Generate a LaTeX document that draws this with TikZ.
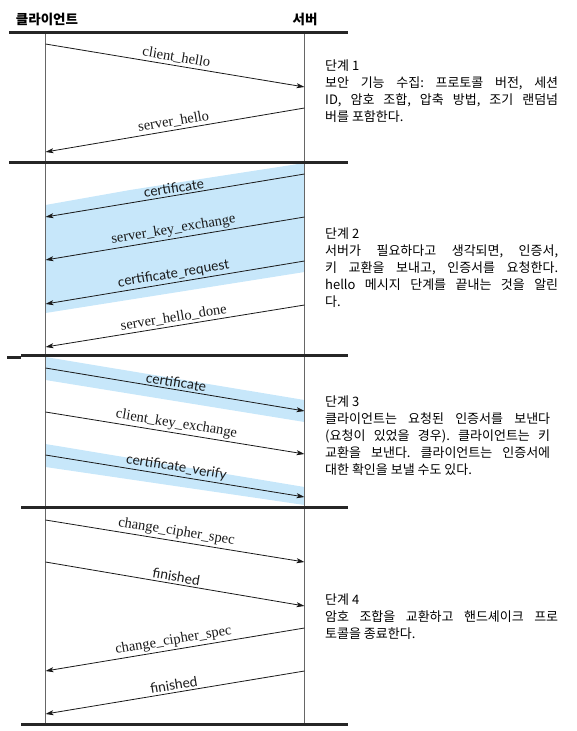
\documentclass[tikz,border=0pt]{standalone}
\usepackage{fontspec}
\setmainfont{Liberation Serif}
\newfontfamily\kr{Noto Sans CJK KR}
\newfontfamily\lsans{Lato}
\usetikzlibrary{arrows.meta}
\setlength{\parindent}{0pt}
\frenchspacing
\definecolor{bandblue}{RGB}{199,231,250}
\begin{document}
\begin{tikzpicture}[x=1pt,y=-1pt,
  sepline/.style={line width=3pt, black!85},
  life/.style={line width=0.9pt, black!60},
  msg/.style={line width=0.8pt, black!90, -{Stealth[length=8pt,width=5pt,inset=2pt]}},
  serlbl/.style={font=\fontsize{14.5}{14.5}\selectfont, midway, sloped, above, inner sep=2pt},
  sanlbl/.style={font=\lsans\fontsize{13.8}{13.8}\selectfont, midway, sloped, above, inner sep=2pt},
  band/.style={fill=bandblue},
  stagetext/.style={font=\kr\fontsize{13}{17}\selectfont, text width=233pt, align=justify, anchor=north west, inner sep=0pt},
  hdr/.style={font=\kr\bfseries\fontsize{13.5}{13.5}\selectfont, inner sep=0pt}
]
\useasboundingbox (0,0) rectangle (576,731);

% shaded bands
\fill[band] (45.5,205) -- (130,190) -- (220,176) -- (304.5,163) -- (304.5,272) -- (45.5,313) -- cycle;
\fill[band] (45.5,357) -- (304.5,400) -- (304.5,422) -- (45.5,380) -- cycle;
\fill[band] (45.5,444) -- (304.5,487) -- (304.5,505) -- (45.5,467) -- cycle;

% lifelines
\coordinate (ctop) at (45.5,32);
\coordinate (cbot) at (45.5,724);
\coordinate (stop) at (304.5,32);
\coordinate (sbot) at (304.5,724);
\draw[life] (ctop) -- (cbot);
\draw[life] (stop) -- (sbot);

% separators
\coordinate (a0) at (9,32);    \coordinate (b0) at (348,32);
\coordinate (a1) at (9,162);   \coordinate (b1) at (348,162);
\coordinate (a2) at (21,355.5); \coordinate (b2) at (348,355.5);
\coordinate (a2x) at (7,357);  \coordinate (b2x) at (21,357);
\coordinate (a3) at (21,507);  \coordinate (b3) at (348,507);
\coordinate (a4) at (21,724);  \coordinate (b4) at (348,724);
\draw[sepline] (a0) -- (b0);
\draw[sepline] (a1) -- (b1);
\draw[sepline] (a2) -- (b2);
\draw[sepline] (a2x) -- (b2x);
\draw[sepline] (a3) -- (b3);
\draw[sepline] (a4) -- (b4);

% headers
\node[hdr] (client) at (47,19) {클라이언트};
\node[hdr] (server) at (305,19) {서버};

% message end points
\coordinate (c1) at (45.5,44);   \coordinate (s1) at (304.5,87);
\coordinate (s2) at (304.5,108); \coordinate (c2) at (45.5,152);
\coordinate (s3) at (304.5,174); \coordinate (c3) at (45.5,217);
\coordinate (s4) at (304.5,217); \coordinate (c4) at (45.5,260);
\coordinate (s5) at (304.5,261); \coordinate (c5) at (45.5,304);
\coordinate (s6) at (304.5,305); \coordinate (c6) at (45.5,347);
\coordinate (c7) at (45.5,368);  \coordinate (s7) at (304.5,411);
\coordinate (c8) at (45.5,412);  \coordinate (s8) at (304.5,454);
\coordinate (c9) at (45.5,455);  \coordinate (s9) at (304.5,497);
\coordinate (c10) at (45.5,520); \coordinate (s10) at (304.5,562);
\coordinate (c11) at (45.5,562); \coordinate (s11) at (304.5,606);
\coordinate (s12) at (304.5,628); \coordinate (c12) at (45.5,671);
\coordinate (s13) at (304.5,671); \coordinate (c13) at (45.5,714);

% messages
\draw[msg] (c1) -- node[serlbl] (m1) {client\_hello} (s1);
\draw[msg] (s2) -- node[serlbl] (m2) {server\_hello} (c2);
\draw[msg] (s3) -- node[sanlbl] (m3) {certificate} (c3);
\draw[msg] (s4) -- node[serlbl] (m4) {server\_key\_exchange} (c4);
\draw[msg] (s5) -- node[sanlbl] (m5) {certificate\_request} (c5);
\draw[msg] (s6) -- node[serlbl] (m6) {server\_hello\_done} (c6);
\draw[msg] (c7) -- node[sanlbl] (m7) {certificate} (s7);
\draw[msg] (c8) -- node[serlbl] (m8) {client\_key\_exchange} (s8);
\draw[msg] (c9) -- node[sanlbl] (m9) {certificate\_verify} (s9);
\draw[msg] (c10) -- node[serlbl] (m10) {change\_cipher\_spec} (s10);
\draw[msg] (c11) -- node[sanlbl] (m11) {finished} (s11);
\draw[msg] (s12) -- node[serlbl] (m12) {change\_cipher\_spec} (c12);
\draw[msg] (s13) -- node[sanlbl] (m13) {finished} (c13);

% stage descriptions
\node[stagetext] (st1) at (325,60) {단계 1\par
보안 기능 수집: 프로토콜 버전, 세션\linebreak
ID, 암호 조합, 압축 방법, 조기 랜덤넘\linebreak
버를 포함한다.};
\node[stagetext] (st2) at (325,228) {단계 2\par
서버가 필요하다고 생각되면, 인증서,\linebreak
키 교환을 보내고, 인증서를 요청한다.\linebreak
hello 메시지 단계를 끝내는 것을 알린\linebreak
다.};
\node[stagetext, text width=225pt] (st3) at (325,396) {단계 3\par
클라이언트는 요청된 인증서를 보낸다\linebreak
(요청이 있었을 경우). 클라이언트는 키\linebreak
교환을 보낸다. 클라이언트는 인증서에\linebreak
대한 확인을 보낼 수도 있다.};
\node[stagetext] (st4) at (325,594) {단계 4\par
암호 조합을 교환하고 핸드셰이크 프로\linebreak
토콜을 종료한다.};
\end{tikzpicture}
\end{document}
